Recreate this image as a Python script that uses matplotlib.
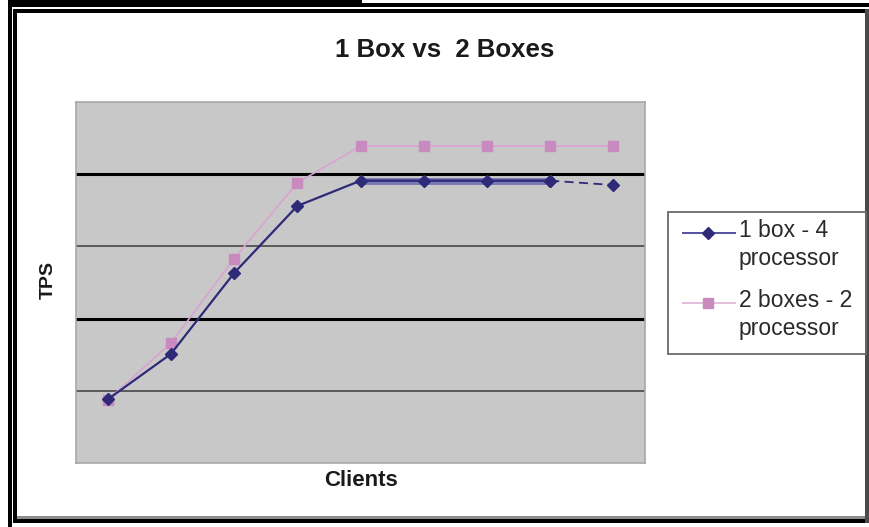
import matplotlib
matplotlib.use("Agg")
import matplotlib.pyplot as plt
from matplotlib.patches import Rectangle
from matplotlib.lines import Line2D

plt.rcParams['font.family'] = ['Liberation Sans', 'DejaVu Sans']

# data (TPS, no scale shown)
clients = ['1', '2', '3', '4', '5', '6', '7', '8', '9']
one_box = [88, 151, 263, 356, 391, 391, 391, 391, 385]
two_boxes = [87, 166, 283, 388, 439, 439, 439, 439, 439]
series_labels = ['1 box - 4\nprocessor', '2 boxes - 2\nprocessor']
title = '1 Box vs  2 Boxes'

W, H = 869, 527
fig = plt.figure(figsize=(W / 100, H / 100), dpi=100)

# overlay in pixel coords for frame + legend
bg = fig.add_axes([0, 0, 1, 1])
bg.set_xlim(0, W)
bg.set_ylim(H, 0)
bg.axis('off')

# scanned double frame
bg.add_patch(Rectangle((8, 0), 354, 2.5, color='black', lw=0))
bg.add_patch(Rectangle((8, 3), W - 8, 3.5, color='black', lw=0))
bg.add_patch(Rectangle((8, 3), 3.5, H - 3, color='black', lw=0))
bg.add_patch(Rectangle((12.5, 9), W - 12.5, 4, color='black', lw=0))
bg.add_patch(Rectangle((12.5, 9), 4, 514, color='black', lw=0))
bg.add_patch(Rectangle((12.5, 519), W - 12.5, 4, color='black', lw=0))
bg.add_patch(Rectangle((16.5, 516), W - 20, 3, color='#8c8c8c', lw=0))
bg.add_patch(Rectangle((865, 9), 4, 514, color='#4a4a4a', lw=0))

# plot area
x0, x1, y0, y1 = 76, 645, 102, 463
ax = fig.add_axes([x0 / W, (H - y1) / H, (x1 - x0) / W, (y1 - y0) / H])
ax.set_facecolor('#c8c8c8')
for s in ax.spines.values():
    s.set_color('#a8a8a8')
    s.set_linewidth(1.2)
ax.set_xlim(-0.5, len(clients) - 0.5)
ax.set_ylim(0, 500)
ax.set_xticks([])
ax.set_yticks([])

# gridlines (alternating thick/thin as in scan)
for v in [100, 200, 300, 400]:
    if v % 200 == 0:
        ax.axhline(v, color='black', lw=2.2, zorder=1)
    else:
        ax.axhline(v, color='#5a5a5a', lw=1.4, zorder=1)

xs = list(range(len(clients)))
ax.plot(xs, two_boxes, color='#d9a3d2', lw=1.2, marker='s', ms=7,
        mfc='#c98ac0', mec='#c98ac0', zorder=3)
ax.plot(xs[4:8], one_box[4:8], color='#7b78b8', lw=5, solid_capstyle='butt', zorder=3)
ax.plot(xs[:8], one_box[:8], color='#2f2a78', lw=1.6, marker='D', ms=6,
        mfc='#2f2a78', mec='#2f2a78', zorder=4)
ax.plot(xs[7:], one_box[7:], color='#2f2a78', lw=1.3, ls=(0, (5, 3)), marker='D',
        ms=6, mfc='#2f2a78', mec='#2f2a78', zorder=4)

# labels
bg.text(445, 50, title, ha='center', va='center', fontsize=18.5, fontweight='bold', color='#1a1a1a')
bg.text(361, 481, 'Clients', ha='center', va='center', fontsize=16, fontweight='bold', color='#1a1a1a')
bg.text(48, 280, 'TPS', ha='center', va='center', rotation=90, fontsize=14, fontweight='bold', color='#1a1a1a')

# legend box
bg.add_patch(Rectangle((668, 212), 198, 142, fill=False, ec='#6a6a6a', lw=1.3))
styles = [dict(color='#5550a0', marker='D', ms=6, mfc='#2f2a78', mec='#2f2a78'),
          dict(color='#e2bfdc', marker='s', ms=7, mfc='#c98ac0', mec='#c98ac0')]
for i, (lab, st) in enumerate(zip(series_labels, styles)):
    yy = 233 + i * 70
    bg.add_line(Line2D([683, 708, 735], [yy, yy, yy], lw=1.4, markevery=[1], **st))
    bg.text(739, yy - 14, lab, ha='left', va='top', fontsize=16.5, color='#2a2a2a', linespacing=1.25)

fig.savefig('out.png', dpi=100)
